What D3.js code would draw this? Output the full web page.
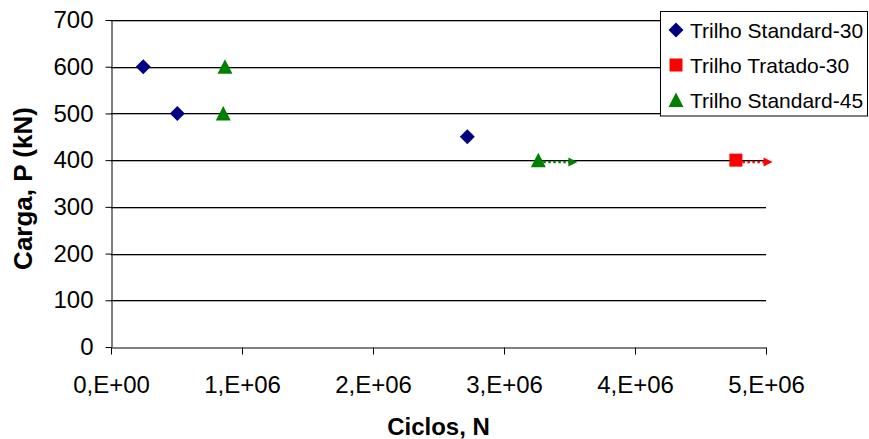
<!DOCTYPE html>
<html>
<head>
<meta charset="utf-8">
<script src="https://cdn.jsdelivr.net/npm/d3@7"></script>
<style>
  html, body { margin: 0; padding: 0; background: #fff; }
  svg { display: block; font-family: Arial, "Liberation Sans", sans-serif; }
</style>
</head>
<body>
<svg id="chart" width="869" height="439"></svg>
<script>
// ---- data ----
const seriesNames = ["Trilho Standard-30", "Trilho Tratado-30", "Trilho Standard-45"];
const seriesColors = ["#000080", "#FF0000", "#008000"];
const seriesShapes = ["diamond", "square", "triangle"];

const std30Cycles = [0.246e6, 0.506e6, 2.72e6];
const std30Load   = [600, 500, 450];

const trat30Cycles = [4.77e6];
const trat30Load   = [400];

const std45Cycles = [0.870e6, 0.857e6, 3.262e6];
const std45Load   = [600, 500, 400];

// run-out arrows (series index, start cycles, end cycles, load)
const arrowSeries = [2, 1];
const arrowStart  = [3.30e6, 4.82e6];
const arrowEnd    = [3.56e6, 5.05e6];
const arrowLoad   = [396, 396];

const xTicks = [0, 1e6, 2e6, 3e6, 4e6, 5e6];
const xTickLabels = ["0,E+00", "1,E+06", "2,E+06", "3,E+06", "4,E+06", "5,E+06"];
const yTicks = [0, 100, 200, 300, 400, 500, 600, 700];

const xTitle = "Ciclos, N";
const yTitle = "Carga, P (kN)";

// ---- layout ----
const svg = d3.select("#chart");
const W = 869, H = 439;
const m = { left: 111, top: 20, right: 103, bottom: 92 };
const x = d3.scaleLinear().domain([0, 5e6]).range([m.left, W - m.right]);
const y = d3.scaleLinear().domain([0, 700]).range([H - m.bottom, m.top]);

// gridlines with soft shadow
const grid = svg.append("g");
yTicks.filter(v => v > 0).forEach(v => {
  grid.append("line")
    .attr("x1", x(0)).attr("x2", x(5e6))
    .attr("y1", Math.round(y(v)) + 1.5).attr("y2", Math.round(y(v)) + 1.5)
    .attr("stroke", "#b0b0b0").attr("stroke-width", 1);
  grid.append("line")
    .attr("x1", x(0)).attr("x2", x(5e6))
    .attr("y1", Math.round(y(v)) + 0.5).attr("y2", Math.round(y(v)) + 0.5)
    .attr("stroke", "#000").attr("stroke-width", 1);
});

// axes
const xAxis = svg.append("g")
  .attr("transform", `translate(0,${Math.round(y(0)) + 0.5})`)
  .call(d3.axisBottom(x).tickValues(xTicks).tickFormat((d, i) => xTickLabels[i]).tickSize(7).tickSizeOuter(0).tickPadding(21));
const yAxis = svg.append("g")
  .attr("transform", `translate(${Math.round(x(0)) + 0.5},0)`)
  .call(d3.axisLeft(y).tickValues(yTicks).tickSize(6).tickSizeOuter(0).tickPadding(12));

[xAxis, yAxis].forEach(a => {
  a.select(".domain").attr("stroke", "#000");
  a.selectAll(".tick line").attr("stroke", "#000");
  a.selectAll(".tick text").attr("fill", "#000").style("font-size", "24px")
    .style("font-family", "Arial, 'Liberation Sans', sans-serif");
});

// axis titles
svg.append("text")
  .attr("x", (x(0) + x(5e6)) / 2).attr("y", 435)
  .attr("text-anchor", "middle")
  .style("font-size", "24px").style("font-weight", "bold")
  .text(xTitle);
svg.append("text")
  .attr("transform", `translate(32,188.5) rotate(-90)`)
  .attr("text-anchor", "middle")
  .style("font-size", "26px").style("font-weight", "bold")
  .text(yTitle);

// marker path generators
function markerPath(shape) {
  if (shape === "diamond") return "M0,-7.5L7.5,0L0,7.5L-7.5,0Z";
  if (shape === "square") return "M-6.5,-6.5H6.5V6.5H-6.5Z";
  return "M0,-7.5L7.5,7L-7.5,7Z";
}

// run-out arrows
const arrows = svg.append("g");
arrowSeries.forEach((s, i) => {
  const x1 = x(arrowStart[i]), x2 = x(arrowEnd[i]), yy = y(arrowLoad[i]);
  arrows.append("line")
    .attr("x1", x1).attr("x2", x2 - 7)
    .attr("y1", yy).attr("y2", yy)
    .attr("stroke", seriesColors[s]).attr("stroke-width", 2.5)
    .attr("stroke-dasharray", "2.5,2.5");
  arrows.append("path")
    .attr("d", `M${x2},${yy}L${x2 - 9},${yy - 4.5}L${x2 - 9},${yy + 4.5}Z`)
    .attr("fill", seriesColors[s]);
});

// points
const seriesData = [
  std30Cycles.map((c, i) => ({ c, p: std30Load[i] })),
  trat30Cycles.map((c, i) => ({ c, p: trat30Load[i] })),
  std45Cycles.map((c, i) => ({ c, p: std45Load[i] }))
];
seriesData.forEach((pts, s) => {
  svg.append("g").selectAll("path").data(pts).join("path")
    .attr("transform", d => `translate(${x(d.c)},${y(d.p)})`)
    .attr("d", markerPath(seriesShapes[s]))
    .attr("fill", seriesColors[s]);
});

// legend
const lg = svg.append("g");
lg.append("rect")
  .attr("x", 660.5).attr("y", 11.5).attr("width", 207).attr("height", 104.5)
  .attr("fill", "#fff").attr("stroke", "#000").attr("stroke-width", 1);
seriesNames.forEach((name, i) => {
  const cy = 30 + i * 35;
  lg.append("path")
    .attr("transform", `translate(676,${cy})`)
    .attr("d", markerPath(seriesShapes[i]))
    .attr("fill", seriesColors[i]);
  lg.append("text")
    .attr("x", 690).attr("y", cy + 7.5)
    .style("font-size", "21px")
    .text(name);
});
</script>
</body>
</html>
